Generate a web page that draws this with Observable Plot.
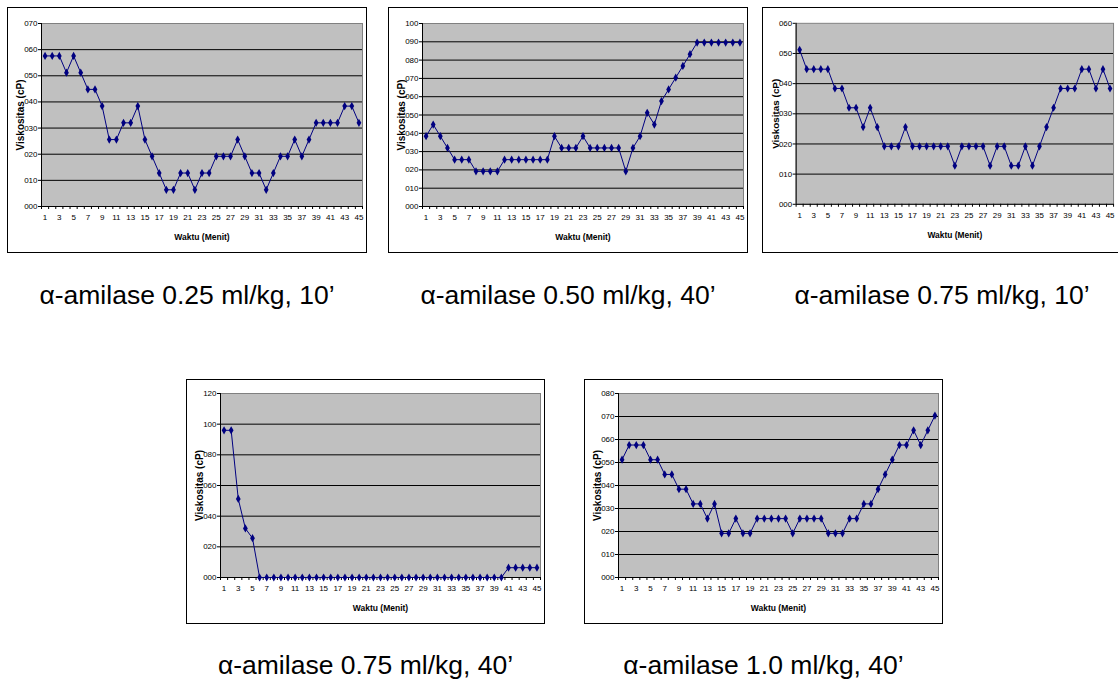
<!DOCTYPE html>
<html>
<head>
<meta charset="utf-8">
<script src="https://cdn.jsdelivr.net/npm/d3@7"></script>
<script src="https://cdn.jsdelivr.net/npm/@observablehq/plot@0.6"></script>
<style>
  html, body { margin: 0; padding: 0; background: #fff; }
  #page { position: relative; width: 1118px; height: 679px; overflow: hidden; background: #fff; }
  .box { position: absolute; box-sizing: border-box; border: 1.6px solid #000; background: #fff; }
  .chart { position: absolute; }
  .chart svg { display: block; }
  .caption { position: absolute; transform: translate(-50%, -50%); white-space: nowrap;
             font-family: "Liberation Sans", Arial, sans-serif; font-size: 26.5px; color: #000; }
</style>
</head>
<body>
<div id="page"></div>
<script>
// ---- Data ----
const minutes = d3.range(1, 46);
const oddMinutes = minutes.filter(m => m % 2 === 1);

const captions = [
  "α-amilase 0.25 ml/kg, 10’",
  "α-amilase 0.50 ml/kg, 40’",
  "α-amilase 0.75 ml/kg, 10’",
  "α-amilase 0.75 ml/kg, 40’",
  "α-amilase 1.0 ml/kg, 40’"
];

const visc025_10 = [57.6,57.6,57.6,51.2,57.6,51.2,44.8,44.8,38.4,25.6,
                    25.6,32,32,38.4,25.6,19.2,12.8,6.4,6.4,12.8,
                    12.8,6.4,12.8,12.8,19.2,19.2,19.2,25.6,19.2,12.8,
                    12.8,6.4,12.8,19.2,19.2,25.6,19.2,25.6,32,32,
                    32,32,38.4,38.4,32];
const visc050_40 = [38.4,44.8,38.4,32,25.6,25.6,25.6,19.2,19.2,19.2,
                    19.2,25.6,25.6,25.6,25.6,25.6,25.6,25.6,38.4,32,
                    32,32,38.4,32,32,32,32,32,19.2,32,
                    38.4,51.2,44.8,57.6,64,70.4,76.8,83.2,89.6,89.6,
                    89.6,89.6,89.6,89.6,89.6];
const visc075_10 = [51.2,44.8,44.8,44.8,44.8,38.4,38.4,32,32,25.6,
                    32,25.6,19.2,19.2,19.2,25.6,19.2,19.2,19.2,19.2,
                    19.2,19.2,12.8,19.2,19.2,19.2,19.2,12.8,19.2,19.2,
                    12.8,12.8,19.2,12.8,19.2,25.6,32,38.4,38.4,38.4,
                    44.8,44.8,38.4,44.8,38.4];
const visc075_40 = [96,96,51.2,32,25.6,0,0,0,0,0,
                    0,0,0,0,0,0,0,0,0,0,
                    0,0,0,0,0,0,0,0,0,0,
                    0,0,0,0,0,0,0,0,0,0,
                    6.4,6.4,6.4,6.4,6.4];
const visc100_40 = [51.2,57.6,57.6,57.6,51.2,51.2,44.8,44.8,38.4,38.4,
                    32,32,25.6,32,19.2,19.2,25.6,19.2,19.2,25.6,
                    25.6,25.6,25.6,25.6,19.2,25.6,25.6,25.6,25.6,19.2,
                    19.2,19.2,25.6,25.6,32,32,38.4,44.8,51.2,57.6,
                    57.6,64,57.6,64,70.4];

const yTicks025_10 = [0,10,20,30,40,50,60,70];
const yTicks050_40 = [0,10,20,30,40,50,60,70,80,90,100];
const yTicks075_10 = [0,10,20,30,40,50,60];
const yTicks075_40 = [0,20,40,60,80,100,120];
const yTicks100_40 = [0,10,20,30,40,50,60,70,80];

const yLabel = "Viskositas (cP)";
const xLabel = "Waktu (Menit)";

// ---- Layout (page positions of each chart box) ----
const layout = [
  {values: visc025_10, ticks: yTicks025_10, left: 7,   top: 7,   w: 360, h: 246, mt: 16, capY: 295},
  {values: visc050_40, ticks: yTicks050_40, left: 388, top: 7,   w: 360, h: 246, mt: 16, capY: 295},
  {values: visc075_10, ticks: yTicks075_10, left: 762, top: 7,   w: 360, h: 246, mt: 16, capY: 295},
  {values: visc075_40, ticks: yTicks075_40, left: 186, top: 379, w: 359, h: 245, mt: 14, capY: 665},
  {values: visc100_40, ticks: yTicks100_40, left: 584, top: 379, w: 359, h: 245, mt: 14, capY: 665}
];

const page = document.getElementById("page");
const axisFont = '"Liberation Sans Narrow", "Liberation Sans", Arial, sans-serif';

layout.forEach((c, i) => {
  const data = minutes.map((m, k) => ({m, v: c.values[k]}));
  const xDomain = [minutes[0] - 0.5, minutes[minutes.length - 1] + 0.5];
  const boundaries = [xDomain[0], ...minutes.map(m => m + 0.5)];
  const yt = c.ticks;

  const box = document.createElement("div");
  box.className = "box";
  Object.assign(box.style, {left: c.left + "px", top: c.top + "px", width: c.w + "px", height: c.h + "px"});
  page.appendChild(box);

  const svg = Plot.plot({
    width: c.w, height: c.h,
    marginLeft: 34, marginRight: 5, marginTop: c.mt, marginBottom: 47,
    style: {fontFamily: axisFont, fontSize: "8px", background: "transparent", color: "#000"},
    x: {domain: xDomain},
    y: {domain: [yt[0], yt[yt.length - 1]]},
    marks: [
      Plot.frame({fill: "#c0c0c0", stroke: "#808080"}),
      Plot.gridY(yt.slice(1, -1), {stroke: "#000", strokeOpacity: 1}),
      Plot.ruleY([yt[0]], {stroke: "#000"}),
      Plot.ruleX([xDomain[0]], {stroke: "#000"}),
      Plot.axisY(yt, {tickFormat: d3.format("03d"), tickSize: 3, tickPadding: 1, label: null, stroke: "#000"}),
      Plot.axisX(boundaries, {tickSize: 3, tickFormat: () => "", label: null, stroke: "#000"}),
      Plot.axisX(oddMinutes, {tickSize: 0, tickPadding: 8, tickFormat: d => String(d), label: null}),
      Plot.line(data, {x: "m", y: "v", stroke: "#000080", strokeWidth: 1}),
      Plot.dot(data, {x: "m", y: "v", symbol: "diamond", r: 2.5, fill: "#000080", stroke: "none"}),
      Plot.text([yLabel], {frameAnchor: "left", textAnchor: "middle", rotate: -90, dx: -21, fontWeight: "bold", fontSize: 10}),
      Plot.text([xLabel], {frameAnchor: "bottom", dy: 31, lineAnchor: "middle", fontWeight: "bold", fontSize: 8.5})
    ]
  });
  const wrap = document.createElement("div");
  wrap.className = "chart";
  Object.assign(wrap.style, {left: c.left + "px", top: c.top + "px"});
  wrap.appendChild(svg);
  page.appendChild(wrap);

  const cap = document.createElement("div");
  cap.className = "caption";
  cap.textContent = captions[i];
  Object.assign(cap.style, {left: (c.left + c.w / 2) + "px", top: c.capY + "px"});
  page.appendChild(cap);
});
</script>
</body>
</html>
